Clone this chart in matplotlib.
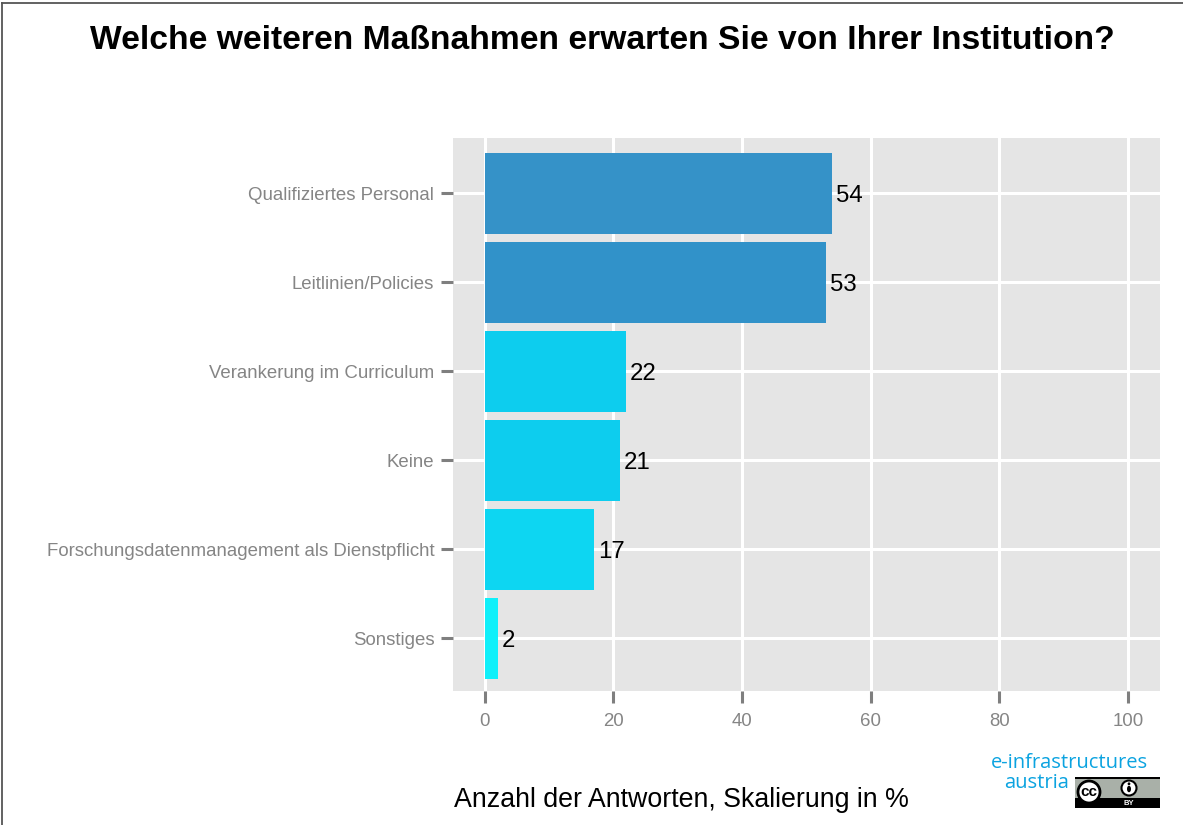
import matplotlib
matplotlib.use('Agg')
import matplotlib.pyplot as plt
from matplotlib.patches import Rectangle, Circle, Ellipse

# Daten
categories = ['Sonstiges', 'Forschungsdatenmanagement als Dienstpflicht', 'Keine',
              'Verankerung im Curriculum', 'Leitlinien/Policies', 'Qualifiziertes Personal']
values = [2, 17, 21, 22, 53, 54]
bar_colors = ['#0ff0fa', '#0dd6f2', '#0dcdee', '#0dcdee', '#3192c9', '#3592c8']
xticks = [0, 20, 40, 60, 80, 100]

W, H = 1183, 825
plt.rcParams['font.family'] = ['Liberation Sans', 'DejaVu Sans']

fig = plt.figure(figsize=(W / 100, H / 100), dpi=100, facecolor='white')
ax = fig.add_axes([453 / W, 1 - 691 / H, (1160 - 453) / W, (691 - 138) / H], facecolor='#e5e5e5')

ax.set_axisbelow(True)
ax.grid(True, color='white', linewidth=2.2)
ax.barh(range(len(values)), values, height=0.91, color=bar_colors, zorder=3)

for i, v in enumerate(values):
    ax.annotate(str(v), (v, i), xytext=(2.8, 0), textcoords='offset points', va='center_baseline',
                ha='left', fontsize=17.3, color='black', zorder=4)

ax.set_xlim(-4.95, 105)
ax.set_ylim(-0.59, 5.6235)
ax.set_xticks(xticks)
ax.set_yticks(range(len(categories)))
ax.set_yticklabels(categories)
ax.tick_params(axis='both', colors='#7f7f7f', labelcolor='#858585', labelsize=13.4,
               width=2.2, length=8.5)
ax.tick_params(axis='x', pad=7)
ax.tick_params(axis='y', pad=5)
for s in ax.spines.values():
    s.set_visible(False)

fig.text(602 / W, 1 - 40.5 / H, 'Welche weiteren Maßnahmen erwarten Sie von Ihrer Institution?',
         ha='center', va='center', fontsize=24.2, fontweight='bold', color='black')
fig.text(681 / W, 1 - 800 / H, 'Anzahl der Antworten, Skalierung in %', ha='center', va='center',
         fontsize=19.3, color='black')

# Logo, in Pixelkoordinaten
logo = fig.add_axes([0, 0, 1, 1], facecolor='none')
logo.set_xlim(0, W)
logo.set_ylim(H, 0)
logo.axis('off')
logo.text(1148, 763.5, 'e-infrastructures', ha='right', va='center', fontsize=14.5,
          color='#0ba3e0', family='Open Sans')
logo.text(1069, 783.5, 'austria', ha='right', va='center', fontsize=14.5,
          color='#0ba3e0', family='Open Sans')
logo.add_patch(Rectangle((1075, 777), 85, 31, facecolor='#a9b0a8', edgecolor='none'))
logo.add_patch(Rectangle((1075, 777), 85, 1.5, facecolor='black', edgecolor='none'))
logo.add_patch(Rectangle((1075, 798), 85, 10, facecolor='black', edgecolor='none'))
logo.add_patch(Circle((1089, 792), 11, facecolor='white', edgecolor='black', linewidth=2))
logo.text(1089, 792, 'cc', ha='center', va='center', fontsize=11, fontweight='bold', color='black')
logo.add_patch(Circle((1129, 788), 7.5, facecolor='white', edgecolor='black', linewidth=1.5))
logo.add_patch(Circle((1129, 783.8), 1.4, facecolor='black', edgecolor='none'))
logo.add_patch(Ellipse((1129, 789), 4, 6.5, facecolor='black', edgecolor='none'))
logo.text(1129, 803.5, 'BY', ha='center', va='center', fontsize=5.5, fontweight='bold', color='white')

# Rahmen
logo.plot([2.5, 2.5], [3, H], color='#555555', linewidth=1.3)
logo.plot([2.5, W], [3, 3], color='#555555', linewidth=1.3)

fig.savefig('out.png', dpi=100)
